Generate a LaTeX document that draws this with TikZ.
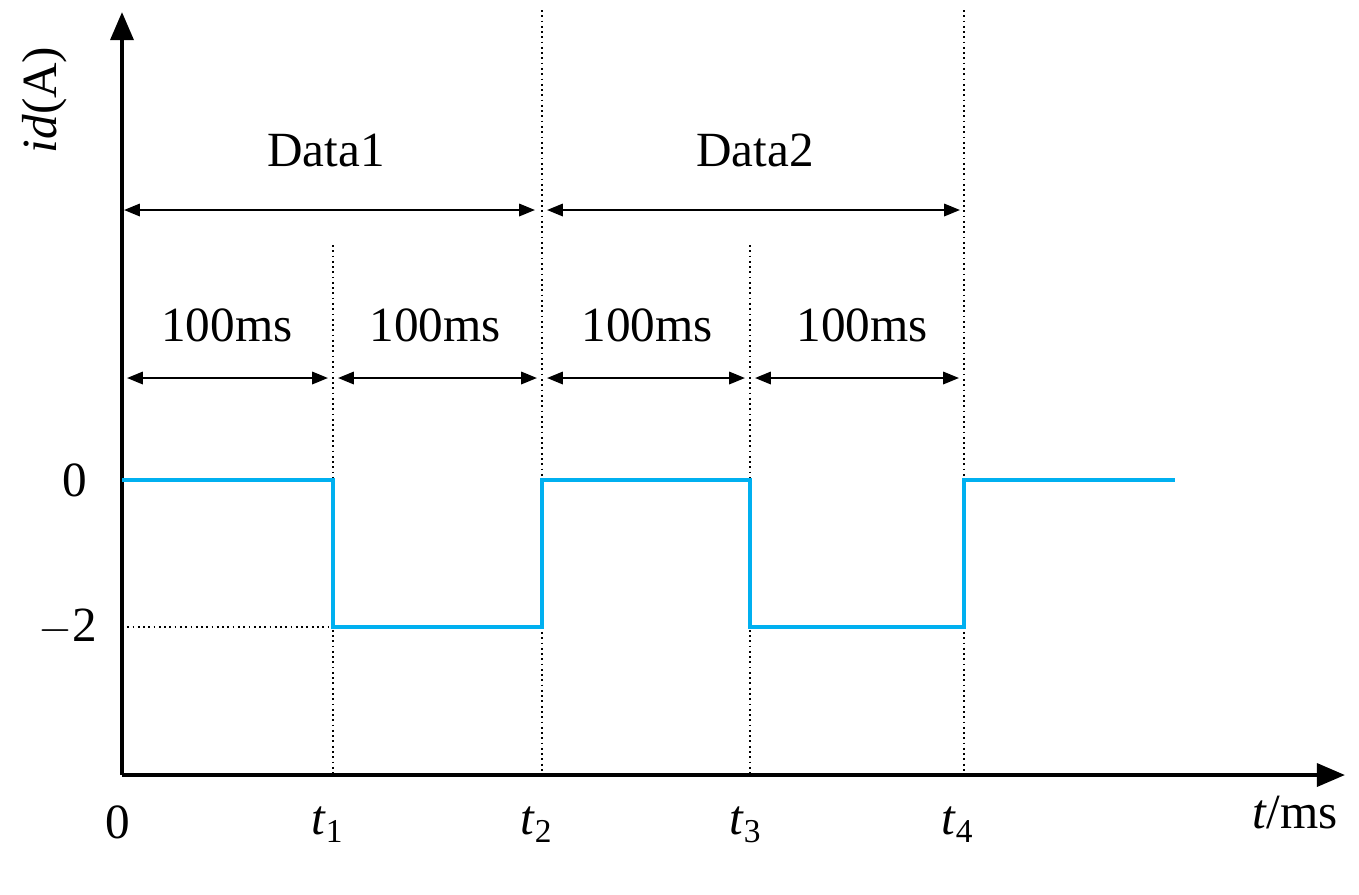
\documentclass[tikz,border=0pt]{standalone}
\usepackage{fontspec}
\setmainfont{Liberation Serif}
\usetikzlibrary{arrows.meta}
\definecolor{sig}{RGB}{0,176,240}
\begin{document}
\begin{tikzpicture}[x=0.02cm,y=-0.02cm,
  txt/.style={font=\fontsize{28}{32}\selectfont,inner sep=0pt},
  dim/.style={line width=1.3pt,{Triangle[length=9pt,width=7pt]}-{Triangle[length=9pt,width=7pt]}},
  dot/.style={line width=1pt,dotted}]
\useasboundingbox (0,0) rectangle (1359,894);
\coordinate (o) at (122,775);
\coordinate (ytop) at (122,12);
\coordinate (xend) at (1345,775);
\foreach \n/\x in {1/333,2/542,3/750,4/964}{\coordinate (t\n) at (\x,775);}
\draw[dot] (333,245) -- (t1);
\draw[dot] (542,10) -- (t2);
\draw[dot] (750,245) -- (t3);
\draw[dot] (964,10) -- (t4);
\draw[dot] (122,627) -- (333,627);
\draw[line width=2.3pt,-{Triangle[length=16pt,width=13pt]}] (o) -- (ytop);
\draw[line width=2.3pt,-{Triangle[length=16pt,width=13pt]}] (o) -- (xend);
\draw[sig,line width=2.3pt] (122,480) -- (333,480) -- (333,627) -- (542,627) -- (542,480) -- (750,480) -- (750,627) -- (964,627) -- (964,480) -- (1175,480);
\draw[dim] (124,210) -- (535,210);
\draw[dim] (547,210) -- (960,210);
\draw[dim] (127,378) -- (328,378);
\draw[dim] (338,378) -- (537,378);
\draw[dim] (547,378) -- (745,378);
\draw[dim] (755,378) -- (959,378);
\node[txt] (d1) at (326,150) {Data1};
\node[txt] (d2) at (755,150) {Data2};
\node[txt] (m1) at (227,325) {100ms};
\node[txt] (m2) at (435,325) {100ms};
\node[txt] (m3) at (647,325) {100ms};
\node[txt] (m4) at (862,325) {100ms};
\node[txt] (z) at (75,480) {0};
\node[txt] (m2l) at (68,627) {$-$2};
\node[txt] (zo) at (118,822) {0};
\foreach \n/\x in {1/327,2/536,3/745,4/957}{\node[txt] (l\n) at (\x,825) {\textit{t}\raisebox{-0.35ex}{\fontsize{19}{21}\selectfont\n}};}
\node[txt] (tms) at (1295,813) {\textit{t}/ms};
\node[txt,rotate=90] (ylab) at (45,100) {\textit{id}(A)};
\end{tikzpicture}
\end{document}
